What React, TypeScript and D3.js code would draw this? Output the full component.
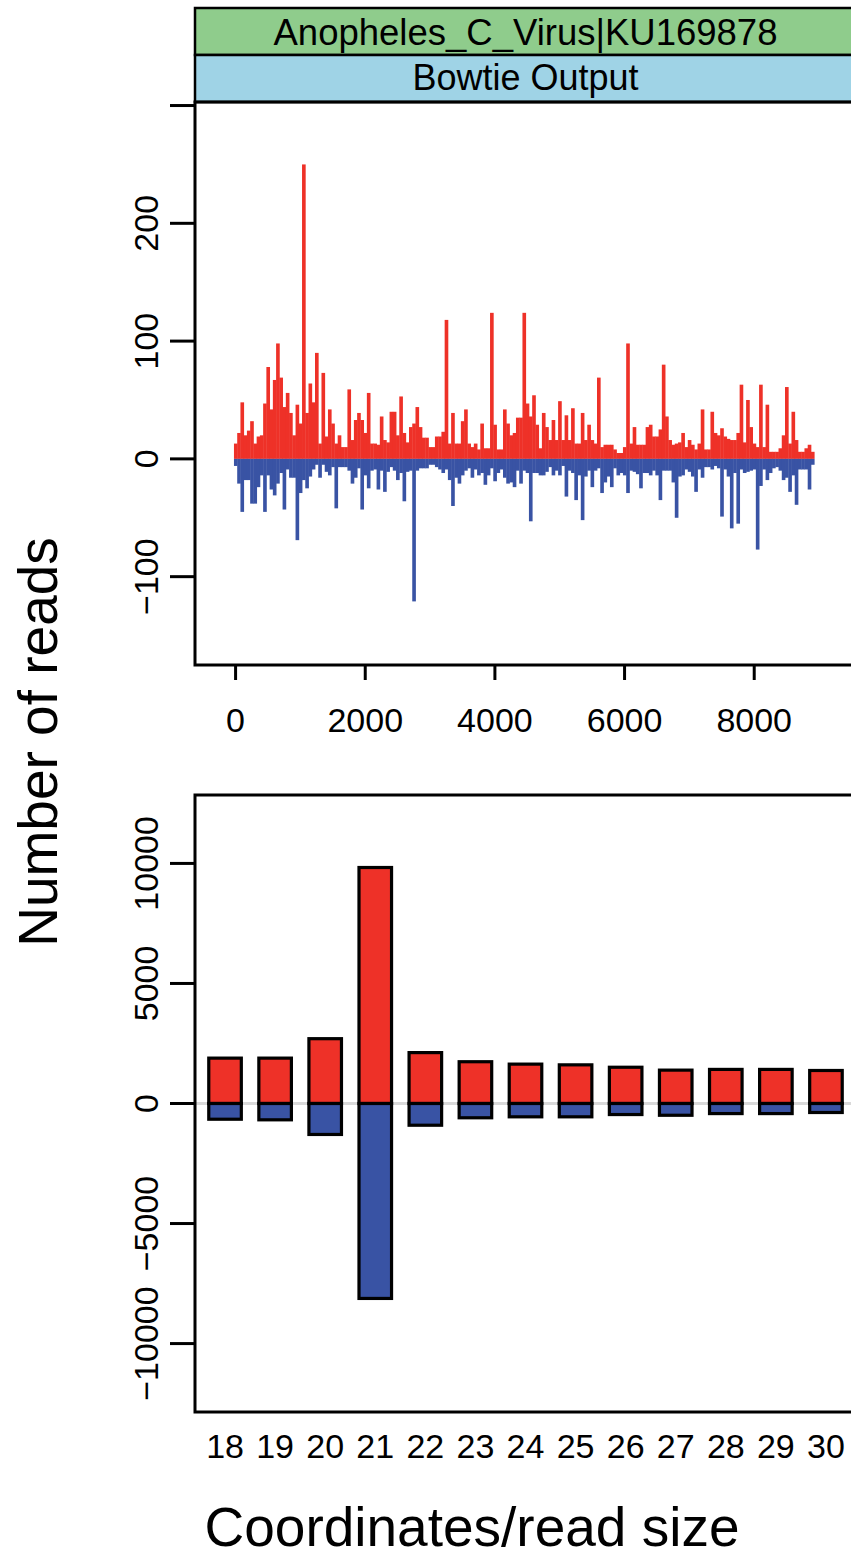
import React from 'react';
import * as d3 from 'd3';

// Genome coordinate (bin centre, 50 nt bins) for the coverage panel
const positions = [
  0, 50, 100, 150, 200, 250, 300, 350, 400, 450, 500, 550, 600, 650, 700, 750, 800, 850, 900, 950,
  1000, 1050, 1100, 1150, 1200, 1250, 1300, 1350, 1400, 1450, 1500, 1550, 1600, 1650, 1700, 1750, 1800, 1850, 1900, 1950,
  2000, 2050, 2100, 2150, 2200, 2250, 2300, 2350, 2400, 2450, 2500, 2550, 2600, 2650, 2700, 2750, 2800, 2850, 2900, 2950,
  3000, 3050, 3100, 3150, 3200, 3250, 3300, 3350, 3400, 3450, 3500, 3550, 3600, 3650, 3700, 3750, 3800, 3850, 3900, 3950,
  4000, 4050, 4100, 4150, 4200, 4250, 4300, 4350, 4400, 4450, 4500, 4550, 4600, 4650, 4700, 4750, 4800, 4850, 4900, 4950,
  5000, 5050, 5100, 5150, 5200, 5250, 5300, 5350, 5400, 5450, 5500, 5550, 5600, 5650, 5700, 5750, 5800, 5850, 5900, 5950,
  6000, 6050, 6100, 6150, 6200, 6250, 6300, 6350, 6400, 6450, 6500, 6550, 6600, 6650, 6700, 6750, 6800, 6850, 6900, 6950,
  7000, 7050, 7100, 7150, 7200, 7250, 7300, 7350, 7400, 7450, 7500, 7550, 7600, 7650, 7700, 7750, 7800, 7850, 7900, 7950,
  8000, 8050, 8100, 8150, 8200, 8250, 8300, 8350, 8400, 8450, 8500, 8550, 8600, 8650, 8700, 8750, 8800, 8850, 8900,
];

// Reads on the plus strand (red)
const plusReads = [
  13, 22, 48, 20, 24, 32, 13, 19, 20, 47, 78, 42, 67, 98, 69, 44, 56, 39, 20, 46,
  30, 250, 39, 64, 48, 90, 13, 73, 19, 42, 30, 13, 20, 10, 10, 59, 16, 33, 39, 33,
  22, 56, 13, 13, 12, 36, 16, 14, 40, 40, 20, 53, 22, 14, 27, 30, 44, 27, 18, 18,
  10, 10, 19, 19, 23, 118, 13, 39, 13, 13, 32, 42, 13, 10, 13, 8, 30, 9, 9, 124,
  29, 8, 8, 42, 30, 20, 22, 35, 35, 124, 47, 36, 54, 29, 9, 39, 27, 16, 33, 16,
  49, 16, 37, 16, 43, 13, 13, 39, 16, 29, 16, 13, 69, 10, 12, 12, 12, 8, 5, 5,
  10, 98, 13, 27, 12, 12, 12, 27, 29, 19, 19, 25, 80, 36, 16, 12, 13, 14, 22, 10,
  16, 12, 8, 13, 42, 8, 8, 40, 22, 20, 26, 19, 17, 16, 16, 22, 63, 14, 50, 27,
  13, 10, 63, 10, 46, 6, 6, 6, 9, 20, 61, 13, 40, 16, 6, 6, 9, 12, 6,
];

// Reads on the minus strand (blue)
const minusReads = [
  -6, -21, -45, -18, -18, -38, -38, -24, -14, -45, -14, -26, -31, -21, -12, -43, -9, -16, -16, -69,
  -29, -18, -25, -15, -9, -5, -16, -5, -11, -14, -7, -42, -7, -7, -7, -10, -21, -16, -8, -43,
  -14, -25, -10, -9, -26, -10, -28, -11, -7, -10, -18, -12, -36, -11, -10, -121, -10, -8, -8, -8,
  -5, -5, -7, -9, -12, -9, -18, -40, -16, -21, -14, -10, -8, -16, -9, -14, -12, -22, -14, -8,
  -19, -12, -9, -16, -21, -20, -24, -10, -21, -10, -12, -53, -12, -12, -14, -14, -11, -7, -14, -10,
  -14, -6, -32, -10, -12, -35, -14, -52, -15, -10, -24, -10, -8, -29, -20, -15, -24, -8, -14, -12,
  -14, -29, -10, -11, -13, -25, -12, -12, -14, -10, -14, -35, -10, -10, -10, -20, -50, -15, -14, -9,
  -11, -15, -28, -9, -16, -7, -7, -9, -6, -8, -49, -9, -15, -59, -12, -55, -9, -12, -11, -10,
  -9, -77, -23, -9, -18, -12, -8, -7, -10, -18, -16, -28, -14, -39, -9, -9, -9, -26, -5,
];

// Read size distribution
const readSizes = ['18', '19', '20', '21', '22', '23', '24', '25', '26', '27', '28', '29', '30'];
const sizePlus = [1890, 1890, 2700, 9830, 2120, 1740, 1640, 1610, 1510, 1390, 1420, 1420, 1375];
const sizeMinus = [-655, -680, -1290, -8120, -905, -595, -555, -555, -460, -490, -420, -420, -375];

const topXTicks = [0, 2000, 4000, 6000, 8000];
const topYTicks = [-100, 0, 100, 200, 300];
const topYLabels = ['\u2212100', '0', '100', '200', ''];
const botYTicks = [-10000, -5000, 0, 5000, 10000];
const botYLabels = ['\u221210000', '\u22125000', '0', '5000', '10000'];

const RED = '#ee3128';
const BLUE = '#3953a4';
const FONT = '"Liberation Sans", Arial, Helvetica, sans-serif';

export default function App() {
  const W = 851;
  const H = 1558;
  const L = 195;
  const R = 856;
  const top = { t: 102, b: 665 };
  const bot = { t: 795, b: 1412 };

  const x1 = d3.scaleLinear().domain([-626, 9570]).range([L, R]);
  const y1 = d3.scaleLinear().domain([-175, 303]).range([top.b, top.t]);
  const x2 = d3.scaleLinear().domain([0.4, 13.6]).range([L, R]);
  const y2 = d3.scaleLinear().domain([-12850, 12850]).range([bot.b, bot.t]);

  const half = 25;
  const barW = (x2(1) - x2(0)) * 0.65;

  return (
    <svg
      width={W}
      height={H}
      viewBox={`0 0 ${W} ${H}`}
      style={{ position: 'absolute', left: 0, top: 0, background: '#fff' }}
      fontFamily={FONT}
    >
      <rect x={0} y={0} width={W} height={H} fill="#fff" />

      {/* Strips */}
      <rect x={L} y={8} width={R - L} height={47} fill="#8fcc8c" stroke="#000" strokeWidth={2.5} />
      <rect x={L} y={55} width={R - L} height={47} fill="#9fd3e6" stroke="#000" strokeWidth={2.5} />
      <text x={(L + R) / 2} y={45} fontSize={36.5} textAnchor="middle" fill="#000">
        Anopheles_C_Virus|KU169878
      </text>
      <text x={(L + R) / 2} y={90} fontSize={36} textAnchor="middle" fill="#000">
        Bowtie Output
      </text>

      {/* Top panel coverage */}
      <g>
        {positions.map((p, i) => (
          <rect
            key={'p' + i}
            x={x1(p - half)}
            width={x1(p + half) - x1(p - half) + 0.4}
            y={y1(plusReads[i])}
            height={y1(0) - y1(plusReads[i])}
            fill={RED}
          />
        ))}
        {positions.map((p, i) => (
          <rect
            key={'m' + i}
            x={x1(p - half)}
            width={x1(p + half) - x1(p - half) + 0.4}
            y={y1(0)}
            height={y1(minusReads[i]) - y1(0)}
            fill={BLUE}
          />
        ))}
      </g>
      <rect x={L} y={top.t} width={R - L} height={top.b - top.t} fill="none" stroke="#000" strokeWidth={3} />

      {/* Top y axis */}
      {topYTicks.map((t, i) => (
        <g key={'ty' + i}>
          <line x1={170} x2={L} y1={y1(t)} y2={y1(t)} stroke="#000" strokeWidth={3} />
          {topYLabels[i] && (
            <text
              transform={`translate(158,${y1(t)}) rotate(-90)`}
              fontSize={34}
              textAnchor="middle"
              fill="#000"
            >
              {topYLabels[i]}
            </text>
          )}
        </g>
      ))}
      {/* Top x axis */}
      {topXTicks.map((t, i) => (
        <g key={'tx' + i}>
          <line x1={x1(t)} x2={x1(t)} y1={top.b} y2={top.b + 15} stroke="#000" strokeWidth={3} />
          <text x={x1(t)} y={732} fontSize={34} textAnchor="middle" fill="#000">
            {t}
          </text>
        </g>
      ))}

      {/* Bottom panel */}
      <line x1={L} x2={R} y1={y2(0)} y2={y2(0)} stroke="#d9d9d9" strokeWidth={3} />
      {readSizes.map((s, i) => (
        <g key={'b' + i}>
          <rect
            x={x2(i + 1) - barW / 2}
            width={barW}
            y={y2(sizePlus[i])}
            height={y2(0) - y2(sizePlus[i])}
            fill={RED}
            stroke="#000"
            strokeWidth={3.2}
          />
          <rect
            x={x2(i + 1) - barW / 2}
            width={barW}
            y={y2(0)}
            height={y2(sizeMinus[i]) - y2(0)}
            fill={BLUE}
            stroke="#000"
            strokeWidth={3.2}
          />
          <text x={x2(i + 1)} y={1458} fontSize={34} textAnchor="middle" fill="#000">
            {s}
          </text>
        </g>
      ))}
      <rect x={L} y={bot.t} width={R - L} height={bot.b - bot.t} fill="none" stroke="#000" strokeWidth={3} />
      {botYTicks.map((t, i) => (
        <g key={'by' + i}>
          <line x1={170} x2={L} y1={y2(t)} y2={y2(t)} stroke="#000" strokeWidth={3} />
          <text
            transform={`translate(158,${y2(t)}) rotate(-90)`}
            fontSize={34}
            textAnchor="middle"
            fill="#000"
          >
            {botYLabels[i]}
          </text>
        </g>
      ))}

      {/* Axis titles */}
      <text transform="translate(57,742) rotate(-90)" fontSize={55} textAnchor="middle" fill="#000">
        Number of reads
      </text>
      <text x={472} y={1546} fontSize={55} textAnchor="middle" fill="#000">
        Coordinates/read size
      </text>
    </svg>
  );
}
